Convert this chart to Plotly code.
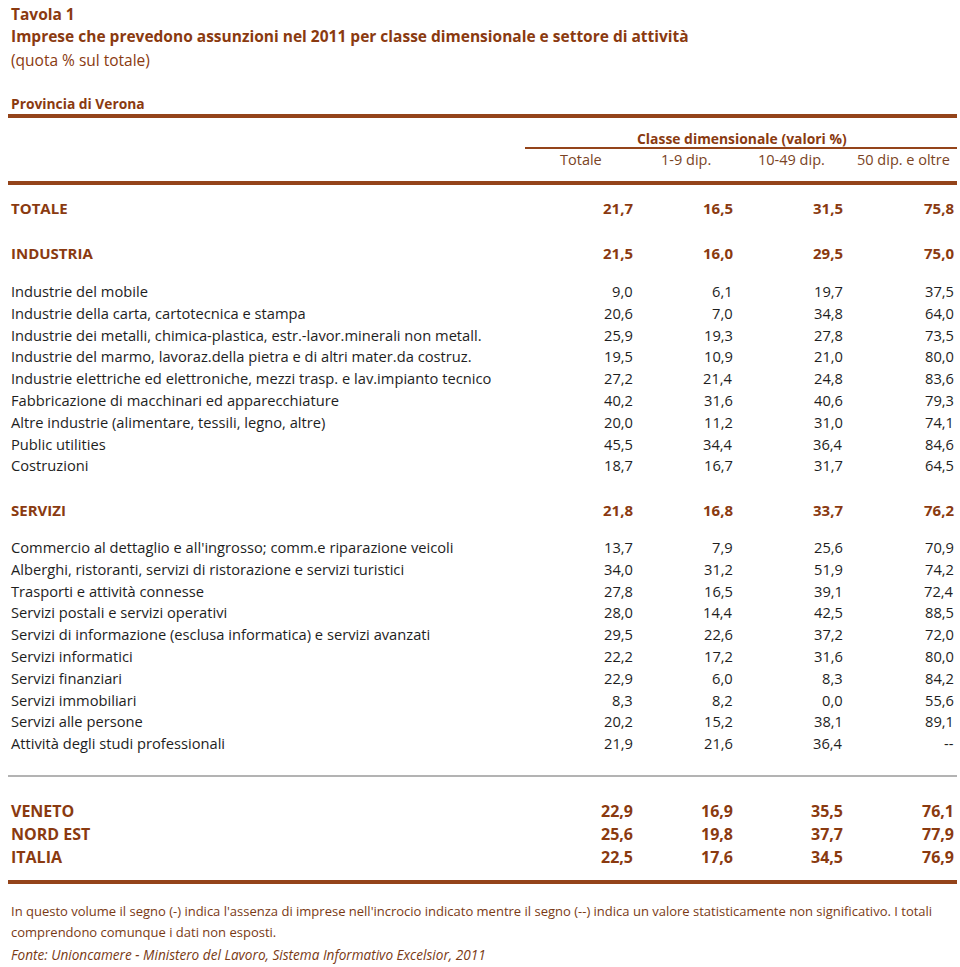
import plotly.graph_objects as go

# --- table content ---
col_headers = ["Totale", "1-9 dip.", "10-49 dip.", "50 dip. e oltre"]

totale_label = "TOTALE"
totale_vals = [21.7, 16.5, 31.5, 75.8]

industria_label = "INDUSTRIA"
industria_vals = [21.5, 16.0, 29.5, 75.0]
industria_rows = [
    "Industrie del mobile",
    "Industrie della carta, cartotecnica e stampa",
    "Industrie dei metalli, chimica-plastica, estr.-lavor.minerali non metall.",
    "Industrie del marmo, lavoraz.della pietra e di altri mater.da costruz.",
    "Industrie elettriche ed elettroniche, mezzi trasp. e lav.impianto tecnico",
    "Fabbricazione di macchinari ed apparecchiature",
    "Altre industrie (alimentare, tessili, legno, altre)",
    "Public utilities",
    "Costruzioni",
]
industria_tot = [9.0, 20.6, 25.9, 19.5, 27.2, 40.2, 20.0, 45.5, 18.7]
industria_1_9 = [6.1, 7.0, 19.3, 10.9, 21.4, 31.6, 11.2, 34.4, 16.7]
industria_10_49 = [19.7, 34.8, 27.8, 21.0, 24.8, 40.6, 31.0, 36.4, 31.7]
industria_50 = [37.5, 64.0, 73.5, 80.0, 83.6, 79.3, 74.1, 84.6, 64.5]

servizi_label = "SERVIZI"
servizi_vals = [21.8, 16.8, 33.7, 76.2]
servizi_rows = [
    "Commercio al dettaglio e all'ingrosso; comm.e riparazione veicoli",
    "Alberghi, ristoranti, servizi di ristorazione e servizi turistici",
    "Trasporti e attività connesse",
    "Servizi postali e servizi operativi",
    "Servizi di informazione (esclusa informatica) e servizi avanzati",
    "Servizi informatici",
    "Servizi finanziari",
    "Servizi immobiliari",
    "Servizi alle persone",
    "Attività degli studi professionali",
]
servizi_tot = [13.7, 34.0, 27.8, 28.0, 29.5, 22.2, 22.9, 8.3, 20.2, 21.9]
servizi_1_9 = [7.9, 31.2, 16.5, 14.4, 22.6, 17.2, 6.0, 8.2, 15.2, 21.6]
servizi_10_49 = [25.6, 51.9, 39.1, 42.5, 37.2, 31.6, 8.3, 0.0, 38.1, 36.4]
servizi_50 = [70.9, 74.2, 72.4, 88.5, 72.0, 80.0, 84.2, 55.6, 89.1, None]

aree = ["VENETO", "NORD EST", "ITALIA"]
aree_tot = [22.9, 25.6, 22.5]
aree_1_9 = [16.9, 19.8, 17.6]
aree_10_49 = [35.5, 37.7, 34.5]
aree_50 = [76.1, 77.9, 76.9]

FONT = "Open Sans"
BROWN = "#8a3a10"
LINE_BROWN = "#94441a"
TEXT = "#1e1e1e"
NOTE = "#7a3a14"

col_right = [633, 733, 843, 954]
col_head_x = [581, 686, 791, 903]


def fmt(v):
    if v is None:
        return "--"
    return f"{v:.1f}".replace(".", ",")


fig = go.Figure()
ann = []


def text(x, y, s, size=15, color=TEXT, bold=False, italic=False, anchor="left"):
    if bold:
        s = f"<b>{s}</b>"
    if italic:
        s = f"<i>{s}</i>"
    ann.append(dict(x=x, y=y, text=s, showarrow=False, xanchor=anchor, yanchor="middle",
                    font=dict(family=FONT, size=size, color=color), borderpad=0))


def row(y, label, vals, size=14.7, color=TEXT, bold=False):
    text(10, y, label, size=size, color=color, bold=bold)
    for xr, v in zip(col_right, vals):
        text(xr + 1, y, fmt(v), size=size, color=color, bold=bold, anchor="right")


# titles
text(10, 14, "Tavola 1", size=15.5, color=BROWN, bold=True)
text(10, 36, "Imprese che prevedono assunzioni nel 2011 per classe dimensionale e settore di attività",
     size=15.5, color=BROWN, bold=True)
text(10, 60, "(quota % sul totale)", size=15.5, color=BROWN)
text(10, 103, "Provincia di Verona", size=13.8, color=BROWN, bold=True)

# column headers
text(742, 138, "Classe dimensionale (valori %)", size=13.9, color=BROWN, bold=True, anchor="center")
for x, h in zip(col_head_x, col_headers):
    text(x, 159, h, size=14.5, color="#7a4324", anchor="center")

row(208, totale_label, totale_vals, size=15, color=BROWN, bold=True)
row(253, industria_label, industria_vals, size=15, color=BROWN, bold=True)
for i, lab in enumerate(industria_rows):
    row(291 + i * 21.8, lab,
        [industria_tot[i], industria_1_9[i], industria_10_49[i], industria_50[i]])
row(510, servizi_label, servizi_vals, size=15, color=BROWN, bold=True)
for i, lab in enumerate(servizi_rows):
    row(547 + i * 21.8, lab,
        [servizi_tot[i], servizi_1_9[i], servizi_10_49[i], servizi_50[i]])
for i, lab in enumerate(aree):
    row(811 + i * 23, lab, [aree_tot[i], aree_1_9[i], aree_10_49[i], aree_50[i]],
        size=16, color=BROWN, bold=True)

# footnotes
text(10, 911, "In questo volume il segno (-) indica l'assenza di imprese nell'incrocio indicato mentre il segno (--) "
     "indica un valore statisticamente non significativo. I totali", size=13, color=NOTE)
text(10, 932, "comprendono comunque i dati non esposti.", size=13, color=NOTE)
text(10, 954, "Fonte: Unioncamere - Ministero del Lavoro, Sistema Informativo Excelsior, 2011",
     size=13.6, color=NOTE, italic=True)

# rules
shapes = [
    dict(type="line", x0=8, x1=957, y0=116, y1=116, line=dict(color=LINE_BROWN, width=4)),
    dict(type="line", x0=525, x1=957, y0=148, y1=148, line=dict(color=LINE_BROWN, width=2)),
    dict(type="line", x0=8, x1=957, y0=183, y1=183, line=dict(color=LINE_BROWN, width=4)),
    dict(type="line", x0=8, x1=957, y0=776, y1=776, line=dict(color="#9a9a9a", width=1.5)),
    dict(type="line", x0=8, x1=957, y0=882, y1=882, line=dict(color=LINE_BROWN, width=4)),
]

fig.update_layout(
    width=960, height=967,
    margin=dict(l=0, r=0, t=0, b=0),
    paper_bgcolor="white", plot_bgcolor="white",
    xaxis=dict(range=[0, 960], visible=False, fixedrange=True),
    yaxis=dict(range=[967, 0], visible=False, fixedrange=True),
    annotations=ann, shapes=shapes, showlegend=False,
)
# drop the default body margin so the figure fills the window exactly
fig.write_html("out.html", post_script="document.body.style.margin='0';",
               config={"displayModeBar": False})
